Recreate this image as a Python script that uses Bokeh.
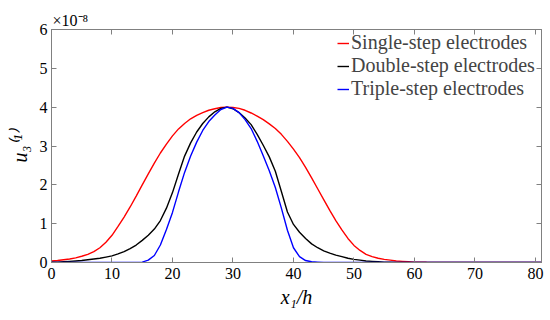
from bokeh.plotting import figure
from bokeh.models import Range1d, LinearAxis, FixedTicker, Legend, LegendItem, Title
from bokeh.embed import file_html
from bokeh.resources import INLINE

# ---- data (u3 in units of 1e-8) ----
x_vals = list(range(0, 61)) + [62, 65, 70, 75, 81]

single_step = [0.04, 0.05, 0.07, 0.09, 0.12, 0.16, 0.21, 0.28, 0.38, 0.52,
               0.70, 0.93, 1.17, 1.43, 1.71, 2.00, 2.28, 2.56, 2.82, 3.05,
               3.26, 3.44, 3.58, 3.70, 3.79, 3.86, 3.92, 3.96, 3.99, 4.00,
               3.99, 3.97, 3.92, 3.85, 3.77, 3.68, 3.57, 3.45, 3.30, 3.12,
               2.92, 2.70, 2.45, 2.18, 1.90, 1.62, 1.34, 1.08, 0.84, 0.62,
               0.44, 0.31, 0.21, 0.15, 0.11, 0.08, 0.06, 0.04, 0.03, 0.02,
               0.01, 0.005, 0.0, 0.0, 0.0, 0.0]

double_step = [0.01, 0.01, 0.02, 0.03, 0.04, 0.05, 0.07, 0.09, 0.11, 0.14,
               0.17, 0.22, 0.28, 0.36, 0.45, 0.57, 0.70, 0.86, 1.08, 1.40,
               1.80, 2.28, 2.74, 3.08, 3.36, 3.58, 3.75, 3.88, 3.97, 4.00,
               3.96, 3.86, 3.72, 3.55, 3.30, 3.02, 2.72, 2.35, 1.83, 1.30,
               0.98, 0.78, 0.62, 0.48, 0.38, 0.30, 0.24, 0.19, 0.15, 0.11,
               0.08, 0.06, 0.04, 0.03, 0.02, 0.01, 0.01, 0.0, 0.0, 0.0,
               0.0, 0.0, 0.0, 0.0, 0.0, 0.0]

triple_step = [0.0, 0.0, 0.0, 0.0, 0.0, 0.0, 0.0, 0.0, 0.0, 0.0,
               0.0, 0.0, 0.0, 0.0, 0.0, 0.01, 0.06, 0.18, 0.45, 0.85,
               1.29, 1.82, 2.32, 2.74, 3.10, 3.40, 3.63, 3.80, 3.94, 4.00,
               3.97, 3.86, 3.68, 3.45, 3.12, 2.75, 2.36, 1.93, 1.40, 0.83,
               0.38, 0.15, 0.05, 0.02, 0.01, 0.0, 0.0, 0.0, 0.0, 0.0,
               0.0, 0.0, 0.0, 0.0, 0.0, 0.0, 0.0, 0.0, 0.0, 0.0,
               0.0, 0.0, 0.0, 0.0, 0.0, 0.0]

series_names = ["Single-step electrodes", "Double-step electrodes", "Triple-step electrodes"]
series_colors = ["#ff0000", "#000000", "#0000ff"]
x_ticks = [0, 10, 20, 30, 40, 50, 60, 70, 80]
y_ticks = [0, 1, 2, 3, 4, 5, 6]
x_label = "x\u2081/h"
y_label = "u\u2083\u207d\u00b9\u207e"
y_multiplier = "\u00d710\u207b\u2078"

SERIF = "'Liberation Serif'"
AXIS_GRAY = "#808080"

p = figure(width=550, height=320, output_backend="svg", toolbar_location=None,
           x_range=Range1d(0, 81), y_range=Range1d(0, 6),
           min_border_left=51, min_border_right=9, min_border_top=29,
           min_border_bottom=58)
p.grid.visible = False
p.outline_line_color = AXIS_GRAY
p.background_fill_color = "white"
p.border_fill_color = "white"

bottom_axis = p.below[0]
left_axis = p.left[0]
bottom_axis.ticker = FixedTicker(ticks=x_ticks)
left_axis.ticker = FixedTicker(ticks=y_ticks)

for ax in [bottom_axis, left_axis]:
    ax.axis_line_color = AXIS_GRAY
    ax.major_tick_line_color = AXIS_GRAY
    ax.major_tick_in = 5
    ax.major_tick_out = 0
    ax.minor_tick_line_color = None
    ax.major_label_text_font = SERIF
    ax.major_label_text_font_size = "16px"
    ax.major_label_text_color = "black"
    ax.axis_label_text_font = SERIF
    ax.axis_label_text_font_size = "20px"
    ax.axis_label_text_font_style = "italic"
    ax.axis_label_text_color = "black"
bottom_axis.major_label_standoff = 5
left_axis.major_label_standoff = 4
bottom_axis.axis_label = x_label
bottom_axis.axis_label_standoff = 4
left_axis.axis_label = y_label
left_axis.axis_label_standoff = 6

# top and right box axes: inward ticks only, no labels
top_axis = LinearAxis(ticker=FixedTicker(ticks=[], minor_ticks=x_ticks))
right_axis = LinearAxis(ticker=FixedTicker(ticks=[], minor_ticks=y_ticks))
for ax in [top_axis, right_axis]:
    ax.axis_line_color = AXIS_GRAY
    ax.major_tick_line_color = None
    ax.minor_tick_line_color = AXIS_GRAY
    ax.minor_tick_in = 5
    ax.minor_tick_out = 0
    ax.major_label_standoff = 0
p.add_layout(top_axis, "above")
p.add_layout(right_axis, "right")

p.add_layout(Title(text=y_multiplier, align="left", offset=1, standoff=2,
                   text_font=SERIF, text_font_size="16px",
                   text_font_style="normal", text_color="black"), "above")

renderers = []
for ys, color in zip([single_step, double_step, triple_step], series_colors):
    r = p.line(x_vals, ys, line_color=color, line_width=1.4)
    renderers.append(r)

legend = Legend(items=[LegendItem(label=n, renderers=[r]) for n, r in zip(series_names, renderers)],
                location=(281, 157), border_line_alpha=0, background_fill_alpha=0,
                label_text_font=SERIF, label_text_font_size="20px",
                glyph_width=12, glyph_height=22, label_height=22, label_standoff=2,
                spacing=0, padding=5, margin=0)
p.add_layout(legend)

open("out.html", "w").write(file_html(p, INLINE))
